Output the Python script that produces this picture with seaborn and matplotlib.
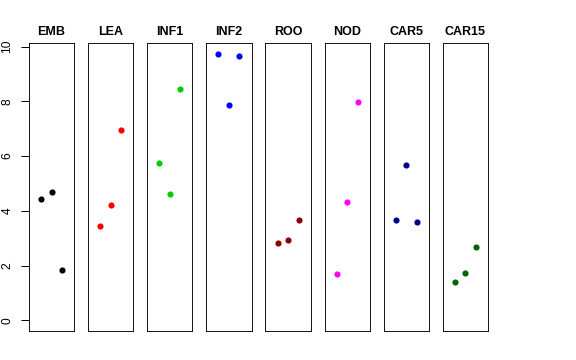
import pandas as pd
import numpy as np
import matplotlib
matplotlib.use("Agg")
import matplotlib.pyplot as plt
import seaborn as sns

# Values, three replicates per tissue
groups = ["EMB", "LEA", "INF1", "INF2", "ROO", "NOD", "CAR5", "CAR15"]
rep1 = [4.42, 3.46, 5.76, 9.74, 2.83, 1.71, 3.65, 1.40]
rep2 = [4.67, 4.22, 4.61, 7.85, 2.95, 4.34, 5.68, 1.74]
rep3 = [1.83, 6.96, 8.46, 9.67, 3.68, 7.98, 3.60, 2.67]
colors = ["black", "#FF0000", "#00CD00", "#0000FF", "#8B0000", "#FF00FF", "#00008B", "#006400"]
yticks = [0, 2, 4, 6, 8, 10]

# long format table
rows = []
for g, a, b, c in zip(groups, rep1, rep2, rep3):
    for i, v in enumerate([a, b, c]):
        rows.append({"group": g, "rep": i + 1, "value": v})
df = pd.DataFrame(rows)

sns.set_style("white")
plt.rcParams.update({
    "font.family": ["Liberation Sans", "DejaVu Sans"],
    "text.color": "black",
    "axes.edgecolor": "black",
    "axes.linewidth": 0.9,
    "ytick.color": "black",
    "ytick.labelcolor": "black",
    "ytick.left": True,
    "ytick.major.size": 8.5,
    "ytick.major.width": 1.0,
    "ytick.major.pad": 7,
    "ytick.labelsize": 12,
})

fig, axes = plt.subplots(1, 8, figsize=(8, 5), dpi=72)
plt.subplots_adjust(left=29 / 576, right=488 / 576, top=1 - 43 / 360, bottom=1 - 331 / 360, wspace=0.31)

ymax = df["value"].max()
pad = 0.04 * ymax

for ax, g, col in zip(axes, groups, colors):
    sub = df[df["group"] == g]
    sns.scatterplot(data=sub, x="rep", y="value", color=col, s=38, linewidth=0, ax=ax)
    ax.set_xlim(-0.16, 4.16)
    ax.set_ylim(-pad, ymax + pad)
    ax.set_xlabel("")
    ax.set_ylabel("")
    ax.set_xticks([])
    ax.set_yticks([])
    ax.set_title(g, fontsize=12.5, fontweight="bold", pad=8, color="black")

# y axis on the first panel only
ax0 = axes[0]
ax0.set_yticks(yticks)
ax0.tick_params(axis="y", labelrotation=90)
for lab in ax0.get_yticklabels():
    lab.set_va("center")

plt.savefig("out.png", dpi=72)
